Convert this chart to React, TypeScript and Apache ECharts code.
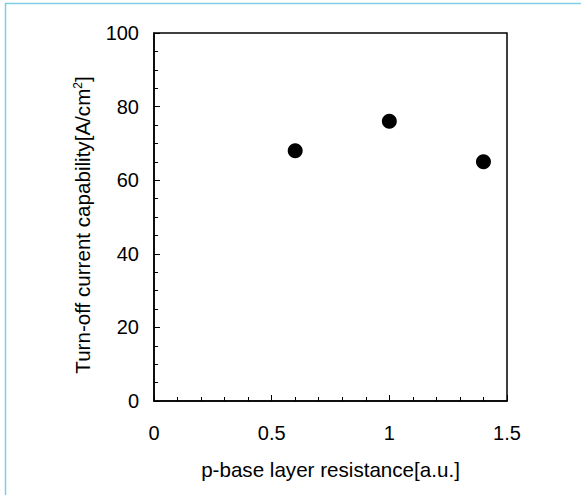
import React, { useEffect, useRef } from "react";
import * as echarts from "echarts";

const resistance = [0.6, 1.0, 1.4];
const capability = [68, 76, 65];
const xTicks = [0, 0.5, 1, 1.5];
const yTicks = [0, 20, 40, 60, 80, 100];

export default function App() {
  const ref = useRef<HTMLDivElement>(null);
  useEffect(() => {
    document.body.style.margin = "0";
    if (!ref.current) return;
    const chart = echarts.init(ref.current, null, { renderer: "svg" });
    const font = "Liberation Sans, Arial, sans-serif";
    chart.setOption({
      animation: false,
      backgroundColor: "#fff",
      textStyle: { fontFamily: font },
      graphic: [
        {
          type: "rect",
          shape: { x: 5.5, y: 3.5, width: 700, height: 700 },
          style: { fill: "none", stroke: "#7fcde6", lineWidth: 1.5 },
          silent: true,
        },
      ],
      grid: {
        left: 154,
        top: 33,
        right: 74,
        bottom: 94,
        show: true,
        borderColor: "#000",
        borderWidth: 1.5,
        backgroundColor: "transparent",
      },
      xAxis: {
        type: "value",
        min: xTicks[0],
        max: xTicks[xTicks.length - 1],
        interval: 0.5,
        name: "p-base layer resistance[a.u.]",
        nameLocation: "middle",
        nameGap: 58,
        nameTextStyle: { fontSize: 20.6, color: "#000", fontFamily: font },
        axisLine: { show: true, lineStyle: { color: "#000", width: 1.5 } },
        axisTick: { show: true, inside: true, length: 6, lineStyle: { color: "#000", width: 1 } },
        minorTick: { show: true, splitNumber: 5, length: 4, lineStyle: { color: "#000", width: 1 } },
        splitLine: { show: false },
        axisLabel: {
          fontSize: 20,
          color: "#000",
          margin: 22,
          fontFamily: font,
          formatter: (v: number) => String(v),
        },
      },
      yAxis: {
        type: "value",
        min: yTicks[0],
        max: yTicks[yTicks.length - 1],
        interval: 20,
        name: "{n|Turn-off current capability[A/cm}{s|2}{n|]}",
        nameLocation: "middle",
        nameGap: 61,
        nameTextStyle: {
          padding: [0, 16, 0, 0],
          rich: {
            n: { fontSize: 20.6, color: "#000", fontFamily: font },
            s: { fontSize: 12, color: "#000", fontFamily: font, verticalAlign: "top", padding: [0, 0, 8, 0] },
          },
        },
        axisLine: { show: true, lineStyle: { color: "#000", width: 1.5 } },
        axisTick: { show: true, inside: true, length: 6, lineStyle: { color: "#000", width: 1 } },
        minorTick: { show: true, splitNumber: 4, length: 4, lineStyle: { color: "#000", width: 1 } },
        splitLine: { show: false },
        axisLabel: { fontSize: 20, color: "#000", margin: 15, fontFamily: font },
      },
      series: [
        {
          type: "scatter",
          data: resistance.map((x, i) => [x, capability[i]]),
          symbol: "circle",
          symbolSize: 15,
          itemStyle: { color: "#000", opacity: 1 },
        },
      ],
    });
    return () => chart.dispose();
  }, []);
  return <div ref={ref} style={{ width: 581, height: 495 }} />;
}
